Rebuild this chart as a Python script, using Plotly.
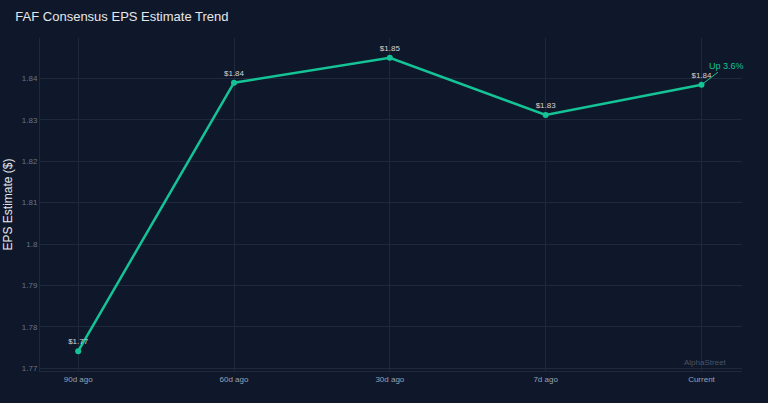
import plotly.graph_objects as go

# consensus EPS estimates over time
periods = ["90d ago", "60d ago", "30d ago", "7d ago", "Current"]
eps_values = [1.7741, 1.8390, 1.8450, 1.8312, 1.8385]
point_labels = ["$1.77", "$1.84", "$1.85", "$1.83", "$1.84"]
y_ticks = [1.77, 1.78, 1.79, 1.80, 1.81, 1.82, 1.83, 1.84]
y_tick_labels = ["1.77", "1.78", "1.79", "1.8", "1.81", "1.82", "1.83", "1.84"]
change_label = "Up 3.6%"

bg_color = "#0f172a"
line_color = "#14c396"
grid_color = "#1e293b"

fig = go.Figure()

fig.add_trace(
    go.Scatter(
        x=periods,
        y=eps_values,
        mode="lines+markers+text",
        text=point_labels,
        textposition="top center",
        textfont=dict(color="#d1d5db", size=8),
        line=dict(color=line_color, width=2.5),
        marker=dict(color=line_color, size=6),
        showlegend=False,
        hoverinfo="x+y",
    )
)

# change since 90 days ago, pointing at the current estimate
fig.add_annotation(
    x=periods[-1],
    y=eps_values[-1],
    text=change_label,
    showarrow=True,
    arrowhead=0,
    arrowwidth=1,
    arrowcolor=line_color,
    ax=25,
    ay=-19,
    font=dict(color=line_color, size=9),
)

fig.add_annotation(
    text="AlphaStreet",
    xref="paper",
    yref="paper",
    x=0.981,
    y=0.005,
    xanchor="right",
    yanchor="bottom",
    showarrow=False,
    font=dict(color="#475569", size=8),
)

fig.update_layout(
    title=dict(
        text="FAF Consensus EPS Estimate Trend",
        x=0.02,
        y=0.97,
        xanchor="left",
        yanchor="top",
        font=dict(color="#e5e7eb", size=13, family="Liberation Sans, Arial"),
    ),
    paper_bgcolor=bg_color,
    plot_bgcolor=bg_color,
    font=dict(family="Liberation Sans, Arial", color="#94a3b8"),
    width=768,
    height=403,
    margin=dict(l=40, r=26, t=38, b=32),
    xaxis=dict(
        range=[-0.245, 4.26],
        showgrid=True,
        gridcolor=grid_color,
        showline=True,
        linecolor=grid_color,
        tickfont=dict(size=8, color="#94a3b8"),
        ticks="",
        automargin=False,
    ),
    yaxis=dict(
        title=dict(text="EPS Estimate ($)", font=dict(size=12, color="#e5e7eb"), standoff=6),
        range=[1.7693, 1.8498],
        tickvals=y_ticks,
        ticktext=y_tick_labels,
        showgrid=True,
        gridcolor=grid_color,
        zeroline=False,
        showline=True,
        linecolor=grid_color,
        tickfont=dict(size=8, color="#64748b"),
        ticks="",
        automargin=False,
    ),
)

# drop the browser's default page margin so the chart fills the window
fig.write_html(
    "out.html",
    config={"displayModeBar": False},
    post_script="document.body.style.margin='0';document.body.style.overflow='hidden';",
)
